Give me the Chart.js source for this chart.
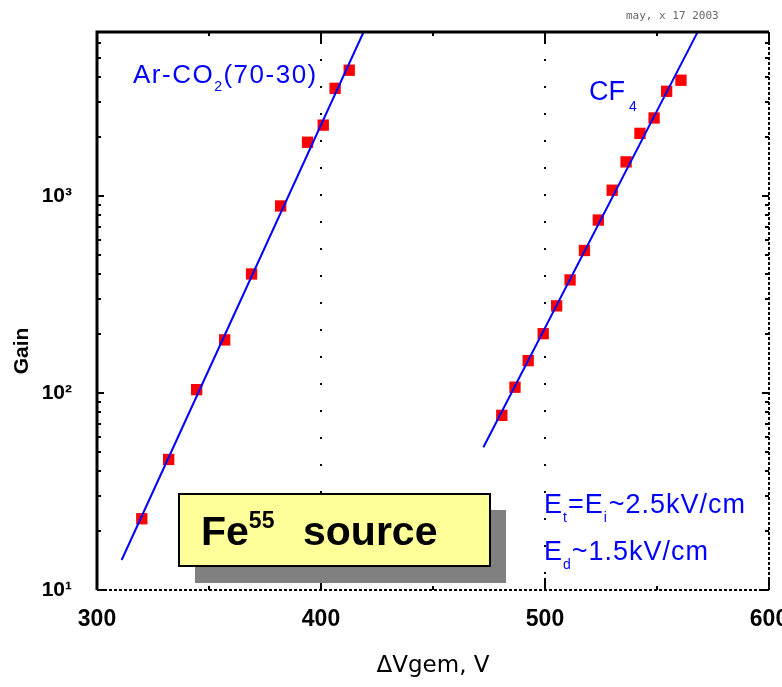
<!DOCTYPE html>
<html>
<head>
<meta charset="utf-8">
<script src="https://cdn.jsdelivr.net/npm/chart.js@4.4.0/dist/chart.umd.min.js"></script>
<style>
  body { margin: 0; background: #fff; }
</style>
</head>
<body>
<canvas id="gainChart" width="782" height="687"></canvas>
<script>
// measured gain vs GEM voltage, Fe55 source
const arVoltage = [320, 332, 344.5, 357, 369, 382, 394, 401, 406.3, 412.6];
const arGain = [23, 46, 104, 186, 402, 890, 1875, 2290, 3520, 4350];
const cf4Voltage = [480.7, 486.6, 492.5, 499.2, 505.2, 511.2, 517.6, 523.8, 530, 536.2, 542.4, 548.7, 554.3, 560.7];
const cf4Gain = [77, 107, 146, 200, 277, 375, 529, 755, 1070, 1490, 2080, 2490, 3400, 3870];

// exponential fits (end points)
const arFitVoltage = [311, 419];
const arFitGain = [14.2, 6800];
const cf4FitVoltage = [472.5, 568];
const cf4FitGain = [53, 6750];

const xTicks = [300, 400, 500, 600];
const xGridLines = [400, 500];
const yTicks = [10, 100, 1000];
const yTickLabels = ['10¹', '10²', '10³'];

const BLUE = '#0000ff';
const RED = '#ff0000';

function toPoints(xs, ys) {
  return xs.map((x, i) => ({ x, y: ys[i] }));
}

// text with a subscript / superscript piece, returns end x
function drawRich(ctx, parts, x, y) {
  for (const p of parts) {
    ctx.font = p.font;
    ctx.fillText(p.text, x, y + (p.dy || 0));
    x += ctx.measureText(p.text).width + (p.gap || 0);
  }
  return x;
}

const framePlugin = {
  id: 'frame',
  beforeDatasetsDraw(chart) {
    const { ctx, chartArea: a, scales: { x } } = chart;
    ctx.save();
    ctx.strokeStyle = '#000';
    ctx.lineWidth = 2;
    ctx.setLineDash([2, 25]);
    xGridLines.forEach(v => {
      const px = Math.round(x.getPixelForValue(v));
      ctx.beginPath();
      ctx.moveTo(px, a.top);
      ctx.lineTo(px, a.bottom);
      ctx.stroke();
    });
    ctx.restore();
  },
  afterDatasetsDraw(chart) {
    const { ctx, chartArea: a, scales: { x, y } } = chart;
    ctx.save();

    // frame: solid top/left, dotted right/bottom
    ctx.strokeStyle = '#000';
    ctx.lineWidth = 3;
    ctx.beginPath();
    ctx.moveTo(a.left, a.bottom);
    ctx.lineTo(a.left, a.top);
    ctx.lineTo(a.right, a.top);
    ctx.stroke();
    ctx.lineWidth = 2;
    ctx.setLineDash([3, 2]);
    ctx.beginPath();
    ctx.moveTo(a.right, a.top);
    ctx.lineTo(a.right, a.bottom);
    ctx.lineTo(a.left, a.bottom);
    ctx.stroke();
    ctx.setLineDash([]);

    // inward tick marks along x (every 50 V)
    ctx.lineWidth = 2;
    for (let v = x.min; v <= x.max; v += 50) {
      const px = Math.round(x.getPixelForValue(v));
      const len = v % 100 === 0 ? 12 : 4;
      ctx.beginPath();
      ctx.moveTo(px, a.top);
      ctx.lineTo(px, a.top + len);
      ctx.moveTo(px, a.bottom);
      ctx.lineTo(px, a.bottom - len);
      ctx.stroke();
    }
    // inward log ticks along y
    for (let d = 10; d <= y.max; d *= 10) {
      for (let m = 1; m < 10; m++) {
        const v = d * m;
        if (v > y.max) break;
        const py = Math.round(y.getPixelForValue(v));
        const len = m === 1 ? 7 : 4;
        ctx.beginPath();
        ctx.moveTo(a.left, py);
        ctx.lineTo(a.left + len, py);
        ctx.moveTo(a.right, py);
        ctx.lineTo(a.right - len, py);
        ctx.stroke();
      }
    }

    // y axis title
    ctx.save();
    ctx.translate(22, 351);
    ctx.rotate(-Math.PI / 2);
    ctx.fillStyle = '#000';
    ctx.font = 'bold 21px "Liberation Sans", Arial';
    ctx.textAlign = 'center';
    ctx.textBaseline = 'middle';
    ctx.fillText('Gain', 0, 0);
    ctx.restore();

    // stamp in the top corner
    ctx.fillStyle = '#666';
    ctx.font = '11px "DejaVu Sans Mono", monospace';
    ctx.textBaseline = 'alphabetic';
    ctx.fillText('may, x 17 2003', 626, 19);

    // gas labels
    ctx.fillStyle = BLUE;
    const big = '26px "Liberation Sans", Arial';
    const sub = '14px "Liberation Sans", Arial';
    ctx.save();
    ctx.letterSpacing = '1.5px';
    drawRich(ctx, [
      { text: 'Ar-CO', font: big },
      { text: '2', font: sub, dy: 8 },
      { text: '(70-30)', font: big }
    ], 133, 83);
    ctx.restore();
    drawRich(ctx, [
      { text: 'CF', font: '27px "Liberation Sans", Arial', gap: 4 },
      { text: '4', font: sub, dy: 11 }
    ], 589, 100);

    // field settings
    const field = '27px "Liberation Sans", Arial';
    ctx.save();
    ctx.letterSpacing = '1px';
    drawRich(ctx, [
      { text: 'E', font: field },
      { text: 't', font: sub, dy: 9 },
      { text: '=E', font: field },
      { text: 'i', font: sub, dy: 9, gap: 1 },
      { text: '~2.5kV/cm', font: field }
    ], 544, 513);
    drawRich(ctx, [
      { text: 'E', font: field },
      { text: 'd', font: sub, dy: 9 },
      { text: '~1.5kV/cm', font: field }
    ], 544, 560);
    ctx.restore();

    // source box with drop shadow
    ctx.fillStyle = '#808080';
    ctx.fillRect(195, 510, 311, 73);
    ctx.fillStyle = '#ffff99';
    ctx.fillRect(178, 493, 313, 74);
    ctx.strokeStyle = '#000';
    ctx.lineWidth = 2;
    ctx.strokeRect(179, 494, 311, 72);
    ctx.fillStyle = '#000';
    drawRich(ctx, [
      { text: 'Fe', font: 'bold 41px "Liberation Sans", Arial' },
      { text: '55', font: 'bold 23px "Liberation Sans", Arial', dy: -17 }
    ], 201, 545);
    ctx.font = 'bold 41px "Liberation Sans", Arial';
    ctx.fillText('source', 303, 545);

    ctx.restore();
  }
};

new Chart(document.getElementById('gainChart'), {
  type: 'scatter',
  data: {
    datasets: [
      {
        label: 'Ar-CO2 fit',
        data: toPoints(arFitVoltage, arFitGain),
        showLine: true,
        borderColor: BLUE,
        borderWidth: 2,
        pointRadius: 0,
        order: 0
      },
      {
        label: 'CF4 fit',
        data: toPoints(cf4FitVoltage, cf4FitGain),
        showLine: true,
        borderColor: BLUE,
        borderWidth: 2,
        pointRadius: 0,
        order: 0
      },
      {
        label: 'Ar-CO2',
        data: toPoints(arVoltage, arGain),
        pointStyle: 'rect',
        pointRadius: 8,
        backgroundColor: RED,
        borderWidth: 0,
        order: 1
      },
      {
        label: 'CF4',
        data: toPoints(cf4Voltage, cf4Gain),
        pointStyle: 'rect',
        pointRadius: 8,
        backgroundColor: RED,
        borderWidth: 0,
        order: 1
      }
    ]
  },
  options: {
    responsive: false,
    animation: false,
    layout: { padding: { top: 32, right: 13, left: 0, bottom: 0 } },
    plugins: {
      legend: { display: false },
      tooltip: { enabled: false }
    },
    scales: {
      x: {
        type: 'linear',
        min: 300,
        max: 600,
        afterBuildTicks: scale => { scale.ticks = xTicks.map(value => ({ value })); },
        afterFit: scale => { scale.height = 97; scale.paddingLeft = 0; scale.paddingRight = 0; },
        grid: { display: false },
        border: { display: false },
        ticks: {
          color: '#000',
          padding: 8,
          maxRotation: 0,
          font: { family: '"Liberation Sans", Arial', size: 23, weight: 'bold' }
        },
        title: {
          display: true,
          text: 'ΔVgem, V',
          color: '#000',
          padding: { top: 0, bottom: 7 },
          font: { family: '"DejaVu Sans"', size: 23 }
        }
      },
      y: {
        type: 'logarithmic',
        min: 10,
        max: 6800,
        afterBuildTicks: scale => { scale.ticks = yTicks.map(value => ({ value })); },
        afterFit: scale => { scale.width = 97; },
        grid: { display: false },
        border: { display: false },
        ticks: {
          color: '#000',
          padding: 17,
          callback: (value, index) => yTickLabels[index],
          font: { family: '"Liberation Sans", Arial', size: 21, weight: 'bold' }
        }
      }
    }
  },
  plugins: [framePlugin]
});
</script>
</body>
</html>
